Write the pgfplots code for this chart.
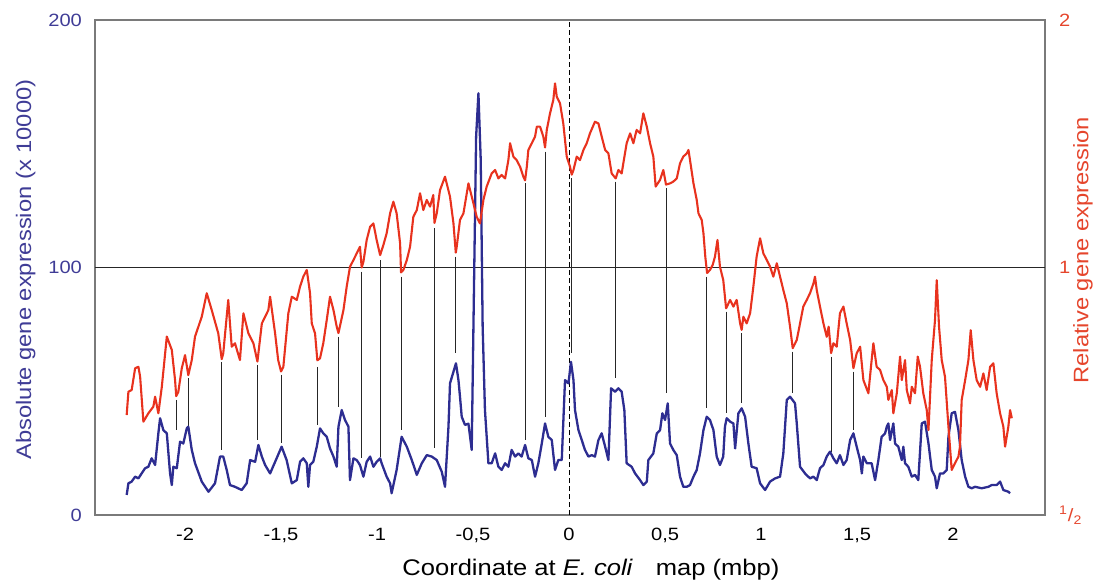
\documentclass[border=0pt]{standalone}
\usepackage{fontspec}
\setmainfont{Liberation Sans}[FakeStretch=1.13]
\usepackage{pgfplots}
\pgfplotsset{compat=1.18}

\definecolor{bluecurve}{HTML}{2D2D91}
\definecolor{redcurve}{HTML}{E8321E}
\definecolor{bluetext}{HTML}{3F3C96}
\definecolor{redtext}{HTML}{E5452C}
\definecolor{framegray}{HTML}{7A7A7A}

\newcommand{\tickfont}{\fontsize{8.9}{10}\selectfont}
\newcommand{\labfont}{\fontsize{10.5}{12}\selectfont}

\begin{document}
\begin{tikzpicture}
\begin{axis}[
    at={(0,0)}, anchor=south west,
    scale only axis,
    width=475pt, height=247.5pt,
    xmin=-2.469, xmax=2.479,
    ymin=0, ymax=200,
    axis line style={draw=framegray, line width=0.7pt},
    major tick length=0pt,
    xtick={-2,-1.5,-1,-0.5,0,0.5,1,1.5,2},
    ytick={0,100,200},
    /pgf/number format/assume math mode=true,
    xticklabel style={font=\tickfont, /pgf/number format/use comma, yshift=-3pt},
    yticklabel style={font=\tickfont, text=bluetext, xshift=-3pt},
    xlabel={Coordinate at \textit{E. coli}\hspace{0.7em} map (mbp)},
    xlabel style={font=\fontsize{11.3}{13}\selectfont, at={(axis description cs:0.522,-0.111)}, anchor=center},
    ylabel={Absolute gene expression (x 10000)},
    ylabel style={font=\labfont, text=bluetext, at={(axis description cs:-0.073,0.496)}, anchor=center},
    unbounded coords=jump,
]
% connectors between blue peaks and red troughs
\addplot[black!85, line width=0.5pt] coordinates {
(-2.047,46.5)(-2.047,34.3)(-2.047,nan)
(-1.983,55.2)(-1.983,35.7)(-1.983,nan)
(-1.809,61.9)(-1.809,26.3)(-1.809,nan)
(-1.623,60.6)(-1.623,30.3)(-1.623,nan)
(-1.500,56.6)(-1.500,28.9)(-1.500,nan)
(-1.311,59.9)(-1.311,36.4)(-1.311,nan)
(-1.201,72.1)(-1.201,43.8)(-1.201,nan)
(-1.080,98.3)(-1.080,22.9)(-1.080,nan)
(-0.984,103.0)(-0.984,23.6)(-0.984,nan)
(-0.875,96.3)(-0.875,34.3)(-0.875,nan)
(-0.701,115.8)(-0.701,26.9)(-0.701,nan)
(-0.590,104.4)(-0.590,65.3)(-0.590,nan)
(-0.229,134.0)(-0.229,30.3)(-0.229,nan)
(-0.125,146.8)(-0.125,39.7)(-0.125,nan)
(0.014,136.0)(0.014,65.3)(0.014,nan)
(0.243,134.7)(0.243,55.2)(0.243,nan)
(0.505,132.0)(0.505,49.2)(0.505,nan)
(0.717,96.3)(0.717,43.1)(0.717,nan)
(0.818,82.2)(0.818,41.1)(0.818,nan)
(0.899,73.4)(0.899,45.1)(0.899,nan)
(1.165,66.0)(1.165,49.2)(1.165,nan)
(1.365,64.0)(1.365,25.6)(1.365,nan)
(1.481,57.9)(1.481,34.3)
};
% reference lines
\addplot[black!85, line width=0.7pt] coordinates {(-2.469,100)(2.479,100)};
\addplot[black, line width=0.5pt, dash pattern=on 2.5pt off 1.5pt] coordinates {(0,0)(0,200)};
% absolute expression
\addplot[bluecurve, line width=1.15pt, line join=round] coordinates {
(-2.304,8.1)(-2.295,12.8)(-2.278,13.5)(-2.260,15.5)(-2.243,14.8)(-2.226,16.8)(-2.208,18.9)(-2.191,19.5)(-2.174,22.9)(-2.156,20.2)(-2.139,33.0)(-2.130,39.1)(-2.113,34.3)(-2.095,33.0)(-2.078,16.8)(-2.069,12.1)(-2.061,19.5)(-2.043,18.9)(-2.026,29.6)(-2.009,28.9)(-1.991,35.0)(-1.983,35.7)(-1.965,26.3)(-1.948,20.9)(-1.913,13.5)(-1.878,9.4)(-1.844,12.8)(-1.818,23.6)(-1.801,23.6)(-1.783,18.2)(-1.766,12.1)(-1.740,11.4)(-1.705,10.1)(-1.679,12.8)(-1.661,22.2)(-1.635,21.5)(-1.618,28.3)(-1.600,23.6)(-1.583,20.2)(-1.557,16.8)(-1.523,22.9)(-1.497,27.6)(-1.471,22.2)(-1.444,12.8)
(-1.418,14.1)(-1.401,21.5)(-1.384,22.9)(-1.366,20.9)(-1.358,11.4)(-1.349,20.2)(-1.332,21.5)(-1.314,27.6)(-1.297,35.0)(-1.280,33.0)(-1.262,31.6)(-1.245,26.9)(-1.227,23.6)(-1.210,19.5)(-1.201,35.7)(-1.184,42.4)(-1.167,38.4)(-1.149,35.7)(-1.141,14.1)(-1.123,22.9)(-1.106,22.2)(-1.089,20.2)(-1.071,15.5)(-1.054,21.5)(-1.036,23.6)(-1.019,19.5)(-1.002,21.5)(-0.984,22.9)(-0.976,20.9)(-0.950,15.5)(-0.932,12.8)(-0.924,8.8)(-0.898,18.2)(-0.872,31.6)(-0.845,27.6)(-0.819,22.2)(-0.793,16.2)(-0.767,20.9)(-0.741,24.2)(-0.715,23.6)(-0.689,22.2)(-0.663,17.5)(-0.646,11.4)(-0.628,35.7)(-0.620,53.2)(-0.602,57.9)(-0.589,61.3)(-0.576,54.5)(-0.568,47.8)(-0.559,39.7)(-0.542,36.4)(-0.524,36.9)(-0.507,26.3)(-0.498,76.1)(-0.484,152.9)(-0.472,170.4)(-0.460,143.4)(-0.450,76.1)(-0.438,42.4)(-0.420,20.9)
(-0.403,20.9)(-0.385,24.9)(-0.368,19.5)(-0.351,18.2)(-0.333,20.9)(-0.316,19.5)(-0.299,26.3)(-0.281,23.6)(-0.264,24.9)(-0.247,23.6)(-0.229,28.3)(-0.212,22.9)(-0.194,22.2)(-0.177,15.5)(-0.160,20.9)(-0.142,28.9)(-0.125,37.0)(-0.108,31.6)(-0.090,30.3)(-0.073,18.2)(-0.056,22.2)(-0.038,22.2)(-0.021,54.5)(-0.003,53.2)(0.010,61.9)(0.023,54.5)(0.031,42.4)(0.049,34.3)(0.066,30.3)(0.083,26.3)(0.101,23.6)(0.118,24.2)(0.135,23.6)(0.153,30.3)(0.170,33.0)(0.188,27.6)(0.205,22.2)(0.219,51.2)(0.240,49.8)(0.257,51.2)(0.274,49.8)(0.288,42.4)(0.300,20.9)(0.326,19.5)(0.344,16.8)(0.370,14.1)(0.387,12.1)(0.405,13.5)(0.413,22.2)(0.439,24.9)(0.457,33.0)(0.474,34.3)(0.486,41.1)(0.500,38.4)(0.514,45.1)(0.526,28.9)(0.543,26.3)(0.561,24.2)(0.578,15.5)(0.595,11.4)
(0.613,11.4)(0.630,12.1)(0.648,15.5)(0.665,18.2)(0.682,24.9)(0.700,34.3)(0.717,39.7)(0.734,38.4)(0.752,34.3)(0.769,23.6)(0.786,20.2)(0.803,23.6)(0.812,35.7)(0.821,39.1)(0.839,37.7)(0.856,37.0)(0.865,26.9)(0.882,41.1)(0.899,43.1)(0.917,39.7)(0.934,28.9)(0.951,19.5)(0.977,18.9)(0.995,12.8)(1.021,10.1)(1.047,13.5)(1.073,14.8)(1.099,15.5)(1.116,24.9)(1.134,46.5)(1.151,47.8)(1.177,45.1)(1.186,37.0)(1.203,19.5)(1.229,16.8)(1.255,14.8)(1.273,15.5)(1.290,14.1)(1.307,18.9)(1.325,20.2)(1.342,23.6)(1.359,25.6)(1.377,22.9)(1.394,20.9)(1.411,24.2)(1.429,20.2)(1.446,22.2)(1.464,30.3)(1.481,33.0)(1.498,27.6)(1.516,22.2)(1.525,16.8)(1.533,23.6)(1.551,20.9)(1.576,20.9)(1.594,14.1)(1.611,22.2)
(1.628,31.6)(1.646,33.0)(1.655,35.7)(1.663,37.0)(1.672,30.3)(1.689,37.0)(1.698,28.9)(1.715,27.6)(1.733,22.2)(1.741,27.6)(1.750,20.9)(1.767,19.5)(1.785,15.5)(1.802,16.2)(1.819,14.1)(1.837,37.0)(1.854,37.7)(1.872,28.9)(1.889,18.2)(1.906,15.5)(1.915,10.8)(1.932,16.8)(1.950,16.8)(1.967,18.2)(1.976,31.6)(1.993,41.1)(2.010,41.7)(2.028,34.3)(2.045,22.2)(2.063,15.5)(2.080,11.4)(2.097,10.8)(2.115,11.4)(2.149,10.8)(2.184,11.4)(2.201,12.1)(2.227,12.1)(2.245,13.5)(2.262,10.1)(2.288,9.4)(2.297,8.8)
};
% relative expression (log2 scale mapped onto 0..200)
\addplot[redcurve, line width=1.05pt, line join=round] coordinates {
(-2.304,40.4)(-2.295,49.8)(-2.278,50.5)(-2.260,59.3)(-2.243,59.9)(-2.234,55.9)(-2.217,37.7)(-2.191,41.1)(-2.165,43.8)(-2.156,47.8)(-2.139,41.1)(-2.121,51.8)(-2.095,72.1)(-2.069,66.7)(-2.052,54.5)(-2.046,48.0)(-2.035,49.8)(-2.017,59.3)(-2.000,64.6)(-1.983,56.5)(-1.965,62.6)(-1.948,72.1)(-1.913,80.1)(-1.887,89.6)(-1.861,82.8)(-1.827,73.4)(-1.809,63.0)(-1.801,65.3)(-1.775,86.9)(-1.757,68.0)(-1.740,69.4)(-1.714,62.6)(-1.696,81.5)(-1.670,73.4)(-1.644,69.4)(-1.623,62.0)(-1.600,77.4)(-1.566,82.8)(-1.557,88.2)(-1.531,73.4)(-1.515,62.6)(-1.500,58.0)(-1.488,59.9)(-1.462,81.5)(-1.444,88.2)
(-1.418,86.9)(-1.401,92.3)(-1.384,96.3)(-1.366,99.0)(-1.349,89.6)(-1.340,77.4)(-1.323,73.4)(-1.311,62.5)(-1.297,63.3)(-1.280,69.4)(-1.262,78.8)(-1.245,88.2)(-1.227,82.8)(-1.210,76.1)(-1.201,73.5)(-1.175,82.8)(-1.158,92.3)(-1.141,100.3)(-1.123,103.0)(-1.106,105.7)(-1.089,108.4)(-1.080,100.0)(-1.071,102.3)(-1.054,111.1)(-1.036,116.5)(-1.019,117.8)(-1.002,111.1)(-0.984,105.0)(-0.967,109.1)(-0.950,113.8)(-0.932,121.9)(-0.915,126.6)(-0.898,121.9)(-0.880,109.8)(-0.875,98.0)(-0.863,99.0)(-0.845,103.0)(-0.828,108.4)(-0.811,120.5)(-0.793,123.2)(-0.776,130.0)(-0.759,123.2)(-0.741,127.3)(-0.724,124.6)(-0.707,129.3)(-0.701,118.0)(-0.689,121.9)(-0.672,131.3)(-0.646,136.7)(-0.620,128.6)(-0.602,117.8)(-0.590,106.0)(-0.585,108.4)(-0.568,119.2)(-0.550,121.9)(-0.524,134.0)(-0.498,125.9)(-0.481,120.5)(-0.464,117.8)(-0.446,127.3)(-0.429,132.7)
(-0.403,138.0)(-0.385,139.4)(-0.368,136.0)(-0.351,137.4)(-0.333,136.0)(-0.316,143.4)(-0.307,150.2)(-0.290,144.8)(-0.273,143.4)(-0.255,140.7)(-0.238,136.7)(-0.229,135.2)(-0.220,140.7)(-0.212,147.5)(-0.194,150.2)(-0.177,152.9)(-0.168,156.9)(-0.151,156.9)(-0.134,152.9)(-0.125,148.5)(-0.116,155.6)(-0.099,162.3)(-0.082,167.7)(-0.073,174.4)(-0.064,169.0)(-0.047,166.3)(-0.030,158.2)(-0.012,144.8)(0.005,140.7)(0.014,137.5)(0.023,139.4)(0.040,144.8)(0.057,143.4)(0.075,147.5)(0.092,150.2)(0.109,154.2)(0.135,158.9)(0.153,158.2)(0.170,152.9)(0.188,147.5)(0.205,146.1)(0.222,138.0)(0.243,136.0)(0.257,139.4)(0.274,138.0)(0.300,150.2)(0.318,154.2)(0.335,150.2)(0.352,155.6)(0.370,154.2)(0.387,162.3)(0.405,156.9)(0.422,150.2)(0.439,144.8)(0.451,132.7)(0.474,135.4)(0.491,139.4)(0.505,133.5)(0.526,134.0)(0.543,134.7)(0.561,136.0)(0.578,142.1)(0.595,144.8)
(0.613,146.1)(0.622,147.5)(0.630,143.4)(0.648,134.0)(0.665,127.3)(0.674,121.9)(0.691,119.2)(0.700,113.8)(0.710,104.0)(0.719,97.8)(0.734,99.0)(0.748,101.0)(0.760,104.4)(0.773,111.1)(0.786,100.3)(0.803,95.0)(0.818,83.5)(0.839,86.9)(0.856,84.2)(0.873,86.9)(0.891,77.4)(0.899,74.8)(0.908,80.1)(0.925,77.4)(0.943,81.5)(0.960,92.3)(0.977,104.4)(0.995,111.8)(1.012,105.7)(1.030,103.0)(1.047,100.3)(1.064,96.3)(1.082,101.7)(1.099,96.3)(1.116,90.9)(1.134,85.5)(1.151,76.1)(1.165,67.4)(1.186,70.7)(1.203,77.4)(1.220,84.2)(1.238,86.9)(1.255,89.6)(1.273,93.6)(1.281,96.3)(1.290,90.9)(1.307,84.2)(1.325,77.4)(1.342,72.0)(1.352,76.1)(1.365,65.4)(1.377,69.4)(1.394,68.0)(1.411,81.5)(1.429,84.2)(1.446,77.4)(1.464,70.7)(1.481,59.3)(1.498,65.3)(1.516,68.0)(1.533,54.5)(1.559,49.2)(1.576,62.6)(1.585,69.4)(1.602,59.9)
(1.620,58.6)(1.637,54.5)(1.655,51.8)(1.663,46.5)(1.681,50.5)(1.689,41.1)(1.707,49.2)(1.724,64.0)(1.733,54.5)(1.750,62.6)(1.759,50.5)(1.776,45.1)(1.785,51.8)(1.802,49.2)(1.816,64.0)(1.828,59.9)(1.845,49.2)(1.863,42.4)(1.872,34.3)(1.889,62.6)(1.906,78.8)(1.915,94.9)(1.927,76.1)(1.941,62.6)(1.958,55.9)(1.976,35.7)(1.993,18.2)(2.010,20.9)(2.028,23.6)(2.036,27.6)(2.045,46.5)(2.063,54.5)(2.080,62.6)(2.092,74.7)(2.106,62.6)(2.123,54.5)(2.141,51.8)(2.158,57.2)(2.175,50.5)(2.193,59.9)(2.210,61.3)(2.227,49.2)(2.245,41.1)(2.262,35.7)(2.271,27.6)(2.288,35.7)(2.297,42.4)(2.306,39.1)
};
\end{axis}
% right-hand scale: relative expression, 1/2 .. 2
\begin{axis}[
    at={(0,0)}, anchor=south west,
    scale only axis,
    width=475pt, height=247.5pt,
    xmin=-2.469, xmax=2.479,
    ymin=0, ymax=200,
    axis line style={draw=none},
    major tick length=0pt,
    xtick=\empty,
    ytick={0,100,200},
    yticklabels={{\textsuperscript{1}/\textsubscript{2}},1,2},
    yticklabel pos=right,
    yticklabel style={font=\tickfont, text=redtext, xshift=3.5pt},
    ylabel={Relative gene expression},
    ylabel style={font=\labfont, text=redtext, at={(axis description cs:1.040,0.535)}, anchor=center},
]
\end{axis}
\pgfresetboundingbox
\path[use as bounding box] (-47.5pt,-34.5pt) rectangle (500pt,257.5pt);
\end{tikzpicture}
\end{document}
